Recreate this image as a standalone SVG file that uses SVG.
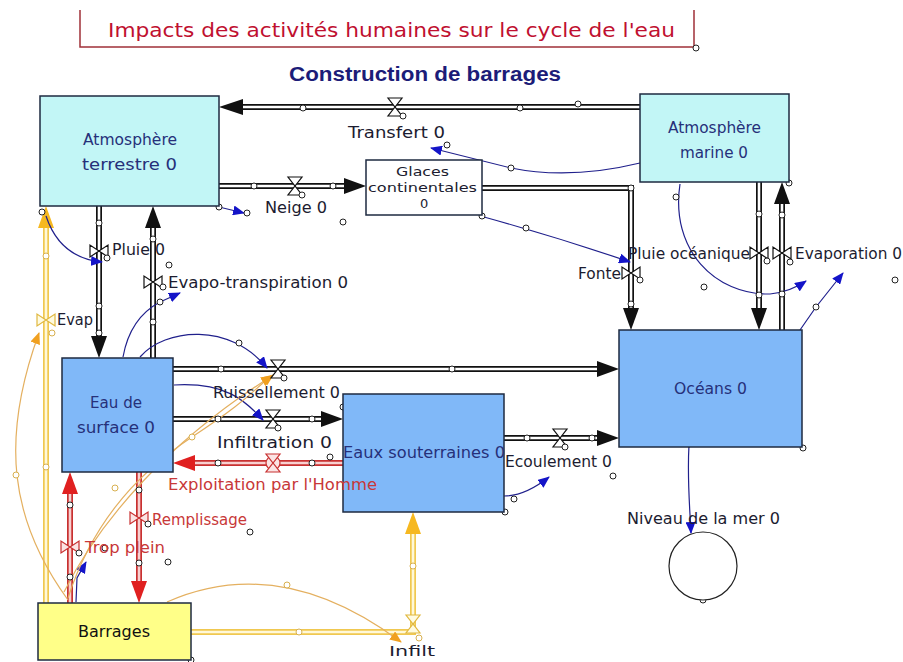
<svg xmlns="http://www.w3.org/2000/svg" width="903" height="662" viewBox="0 0 903 662">
<style>
text { font-family: "DejaVu Sans", "Liberation Sans", sans-serif; font-size: 15px; }
.lbl { fill: #1c1c30; }
.nl { fill: #26307a; }
.rl { fill: #c83838; }
.bk { fill: #111; }
.sm { font-size: 13px; }
.box { stroke: #1e2a40; stroke-width: 1.5; }
.atm { fill: #c2f6f6; }
.wat { fill: #80b8f8; }
.po { fill: none; stroke: #111; stroke-width: 6; }
.pi { fill: none; stroke: #fff; stroke-width: 2.6; }
.ro { fill: none; stroke: #c83030; stroke-width: 6; }
.ri { fill: none; stroke: #f8d0d0; stroke-width: 2.6; }
.yo { fill: none; stroke: #f0c850; stroke-width: 6; }
.yi { fill: none; stroke: #fff8d8; stroke-width: 2.6; }
.ab { fill: #111; }
.ar { fill: #e02020; }
.ay { fill: #f6b820; }
.hd { fill: #fff; stroke: #222; stroke-width: 1; }
.hy { fill: #fff; stroke: #d8b050; stroke-width: 1; }
.ib { fill: none; stroke: #20208c; stroke-width: 1.2; marker-end: url(#mb); }
.io { fill: none; stroke: #e4b060; stroke-width: 1.2; marker-end: url(#mo); }
.vb { fill: #fff; stroke: #111; stroke-width: 1.2; }
.vr { fill: #fbe4e4; stroke: #c83030; stroke-width: 1.2; }
.vy { fill: #fffbe0; stroke: #e0b840; stroke-width: 1.2; }
</style>
<defs>
<marker id="mb" viewBox="0 0 12 10" refX="11" refY="5" markerWidth="12" markerHeight="10" markerUnits="userSpaceOnUse" orient="auto"><path d="M0 0 L12 5 L0 10 Z" fill="#1414c8"/></marker>
<marker id="mo" viewBox="0 0 12 10" refX="11" refY="5" markerWidth="12" markerHeight="10" markerUnits="userSpaceOnUse" orient="auto"><path d="M0 0 L12 5 L0 10 Z" fill="#f0a020"/></marker>
<path id="vh" d="M-7,-9 L7,-9 L0,0 Z M-7,9 L7,9 L0,0 Z"/>
<path id="vv" d="M-9,-6 L-9,6 L0,0 Z M9,-6 L9,6 L0,0 Z"/>
<path id="p1" d="M640 107 H243"/>
<path id="p2" d="M219 186 H344"/>
<path id="p3" d="M482 188 H631 V308"/>
<path id="p4" d="M759 182 V308"/>
<path id="p5" d="M782 330 V204"/>
<path id="p6" d="M99 206 V336"/>
<path id="p7" d="M153 358 V228"/>
<path id="p8" d="M46 603 V228"/>
<path id="p9" d="M173 369 H597"/>
<path id="p10" d="M173 419 H321"/>
<path id="p11" d="M343 463 H195"/>
<path id="p12" d="M504 438 H597"/>
<path id="p13" d="M139 472 V581"/>
<path id="p14" d="M70 603 V494"/>
<path id="p15" d="M191 632 H413 V534"/>
</defs>
<rect width="903" height="662" fill="#fff"/>

<g id="title">
<path d="M80 10 V47 H694 V10" fill="none" stroke="#a03038" stroke-width="1.5"/>
<circle class="hd" cx="696" cy="48" r="3"/>
<text x="108" y="37" fill="#c01030" style="font-size:20px" textLength="567" lengthAdjust="spacingAndGlyphs">Impacts des activités humaines sur le cycle de l'eau</text>
</g>
<g id="subtitle">
<text x="289" y="81" fill="#1c1c78" style="font-family:'Liberation Sans',sans-serif;font-size:20px;font-weight:bold" textLength="272" lengthAdjust="spacingAndGlyphs">Construction de barrages</text>
</g>

<g id="connectors">
<use href="#p1" class="po"/><use href="#p1" class="pi"/>
<use href="#p2" class="po"/><use href="#p2" class="pi"/>
<use href="#p3" class="po"/><use href="#p3" class="pi"/>
<use href="#p4" class="po"/><use href="#p4" class="pi"/>
<use href="#p5" class="po"/><use href="#p5" class="pi"/>
<use href="#p6" class="po"/><use href="#p6" class="pi"/>
<use href="#p7" class="po"/><use href="#p7" class="pi"/>
<use href="#p8" class="yo"/><use href="#p8" class="yi"/>
<use href="#p9" class="po"/><use href="#p9" class="pi"/>
<use href="#p10" class="po"/><use href="#p10" class="pi"/>
<use href="#p11" class="ro"/><use href="#p11" class="ri"/>
<use href="#p12" class="po"/><use href="#p12" class="pi"/>
<use href="#p13" class="ro"/><use href="#p13" class="ri"/>
<use href="#p14" class="ro"/><use href="#p14" class="ri"/>
<use href="#p15" class="yo"/><use href="#p15" class="yi"/>
<polygon class="ab" points="219,107 243,99 243,115"/>
<polygon class="ab" points="366,186 344,178 344,194"/>
<polygon class="ab" points="631,330 623,308 639,308"/>
<polygon class="ab" points="759,330 751,308 767,308"/>
<polygon class="ab" points="782,182 774,204 790,204"/>
<polygon class="ab" points="99,358 91,336 107,336"/>
<polygon class="ab" points="153,206 145,228 161,228"/>
<polygon class="ay" points="46,206 38,228 54,228"/>
<polygon class="ab" points="619,369 597,361 597,377"/>
<polygon class="ab" points="343,419 321,411 321,427"/>
<polygon class="ar" points="173,463 195,455 195,471"/>
<polygon class="ab" points="619,438 597,430 597,446"/>
<polygon class="ar" points="139,603 131,581 147,581"/>
<polygon class="ar" points="70,472 62,494 78,494"/>
<polygon class="ay" points="413,512 405,534 421,534"/>

<path class="ib" d="M640 163 Q570 180 511 168 L431 148"/>
<path class="ib" d="M484 217 Q560 238 630 262"/>
<path class="ib" d="M680 184 C670 250 715 295 770 294 Q790 292 806 281"/>
<path class="ib" d="M800 330 L816 307 L843 273"/>
<path class="ib" d="M46 216 Q60 258 102 262"/>
<path class="ib" d="M123 357 Q130 318 160 302 L180 293"/>
<path class="ib" d="M140 357 C165 328 230 322 267 368"/>
<path class="ib" d="M174 385 C225 382 245 400 263 420"/>
<path class="ib" d="M504 496 Q525 496 549 477"/>
<path class="ib" d="M689 445 C687 480 690 510 691 533"/>
<path class="ib" d="M219 207 L244 213"/>
<path class="ib" d="M76 602 L77 578 L86 562"/>
<path class="io" d="M68 600 C10 520 0 440 39 333"/>
<path class="io" d="M68 598 C90 530 130 478 192 437 S250 392 273 375"/>
<path class="io" d="M64 592 C100 520 170 440 272 376"/>
<path class="io" d="M167 602 Q280 552 401 642"/>

<g id="handles">
<circle class="hd" cx="303" cy="108" r="3"/><circle class="hd" cx="520" cy="108" r="3"/><circle class="hd" cx="578" cy="104" r="3"/>
<circle class="hd" cx="254" cy="186" r="3"/><circle class="hd" cx="333" cy="186" r="3"/>
<circle class="hd" cx="631" cy="188" r="3"/><circle class="hd" cx="631" cy="304" r="3"/>
<circle class="hd" cx="759" cy="214" r="3"/><circle class="hd" cx="759" cy="295" r="3"/>
<circle class="hd" cx="782" cy="215" r="3"/><circle class="hd" cx="782" cy="294" r="3"/>
<circle class="hd" cx="99" cy="223" r="3"/><circle class="hd" cx="99" cy="306" r="3"/><circle class="hd" cx="99" cy="333" r="3"/>
<circle class="hd" cx="153" cy="239" r="3"/><circle class="hd" cx="153" cy="322" r="3"/>
<circle class="hy" cx="46" cy="256" r="3"/><circle class="hy" cx="46" cy="467" r="3"/>
<circle class="hd" cx="221" cy="369" r="3"/><circle class="hd" cx="452" cy="369" r="3"/>
<circle class="hd" cx="218" cy="419" r="3"/><circle class="hd" cx="312" cy="419" r="3"/>
<circle class="hd" cx="218" cy="463" r="3"/><circle class="hd" cx="312" cy="463" r="3"/><circle class="hd" cx="330" cy="457" r="3"/>
<circle class="hd" cx="527" cy="438" r="3"/><circle class="hd" cx="592" cy="438" r="3"/>
<circle class="hd" cx="139" cy="490" r="3"/><circle class="hd" cx="139" cy="563" r="3"/>
<circle class="hd" cx="70" cy="505" r="3"/><circle class="hd" cx="70" cy="577" r="3"/>
<circle class="hy" cx="299" cy="632" r="3"/><circle class="hy" cx="413" cy="566" r="3"/>
<circle class="hd" cx="42" cy="212" r="3"/><circle class="hd" cx="219" cy="207" r="3"/><circle class="hd" cx="247" cy="213" r="3"/>
<circle class="hd" cx="343" cy="222" r="3"/><circle class="hd" cx="169" cy="265" r="3"/>
<circle class="hd" cx="447" cy="145" r="3"/><circle class="hd" cx="511" cy="168" r="3"/>
<circle class="hd" cx="482" cy="216" r="3"/><circle class="hd" cx="526" cy="228" r="3"/>
<circle class="hd" cx="789" cy="183" r="3"/><circle class="hd" cx="676" cy="197" r="3"/>
<circle class="hd" cx="704" cy="287" r="3"/><circle class="hd" cx="895" cy="280" r="3"/><circle class="hd" cx="816" cy="307" r="3"/>
<circle class="hd" cx="803" cy="448" r="3"/><circle class="hd" cx="689" cy="444" r="3"/><circle class="hd" cx="703" cy="600" r="3"/>
<circle class="hd" cx="343" cy="407" r="3"/><circle class="hd" cx="380" cy="499" r="3"/><circle class="hd" cx="505" cy="512" r="3"/>
<circle class="hd" cx="514" cy="499" r="3"/><circle class="hd" cx="613" cy="476" r="3"/>
<circle class="hd" cx="250" cy="532" r="3"/><circle class="hd" cx="168" cy="562" r="3"/><circle class="hd" cx="105" cy="548" r="3"/>
<circle class="hd" cx="191" cy="660" r="3"/>
<circle class="hy" cx="16" cy="475" r="3"/><circle class="hy" cx="115" cy="488" r="3"/><circle class="hy" cx="192" cy="437" r="3"/><circle class="hy" cx="287" cy="585" r="3"/>
<circle class="hd" cx="239" cy="343" r="3"/><circle class="hd" cx="160" cy="302" r="3"/>
</g>
</g>

<g id="atmosphere-terrestre">
<rect class="box atm" x="40" y="96" width="179" height="110"/>
<text class="nl" x="83" y="145" textLength="94" lengthAdjust="spacingAndGlyphs">Atmosphère</text>
<text class="nl" x="82" y="170" textLength="95" lengthAdjust="spacingAndGlyphs">terrestre 0</text>
</g>
<g id="atmosphere-marine">
<rect class="box atm" x="640" y="94" width="149" height="88"/>
<text class="nl" x="668" y="133" textLength="93" lengthAdjust="spacingAndGlyphs">Atmosphère</text>
<text class="nl" x="680" y="158" textLength="68" lengthAdjust="spacingAndGlyphs">marine 0</text>
</g>
<g id="glaces-continentales">
<rect class="box" x="366" y="160" width="116" height="55" fill="#fff"/>
<text class="lbl sm" x="396" y="176" textLength="53" lengthAdjust="spacingAndGlyphs">Glaces</text>
<text class="lbl sm" x="368" y="192" textLength="109" lengthAdjust="spacingAndGlyphs">continentales</text>
<text class="lbl sm" x="420" y="208">0</text>
</g>
<g id="eau-de-surface">
<rect class="box wat" x="62" y="358" width="111" height="114"/>
<text class="nl" x="90" y="408" textLength="52" lengthAdjust="spacingAndGlyphs">Eau de</text>
<text class="nl" x="77" y="433" textLength="78" lengthAdjust="spacingAndGlyphs">surface 0</text>
</g>
<g id="eaux-souterraines">
<rect class="box wat" x="343" y="394" width="161" height="118"/>
<text class="nl" x="343" y="458" textLength="162" lengthAdjust="spacingAndGlyphs">Eaux souterraines 0</text>
</g>
<g id="oceans">
<rect class="box wat" x="619" y="330" width="183" height="117"/>
<text class="nl" x="674" y="394" textLength="73" lengthAdjust="spacingAndGlyphs">Océans 0</text>
</g>
<g id="niveau-de-la-mer">
<circle cx="703" cy="566" r="34" fill="#fff" stroke="#222" stroke-width="1.2"/>
<text class="lbl" x="627" y="524" textLength="153" lengthAdjust="spacingAndGlyphs">Niveau de la mer 0</text>
</g>
<g id="barrages">
<rect class="box" x="38" y="603" width="153" height="57" fill="#ffff88"/>
<text class="bk" x="78" y="637" textLength="72" lengthAdjust="spacingAndGlyphs">Barrages</text>
</g>

<g id="flow-transfert">
<use href="#vh" x="395" y="107" class="vb"/><circle class="hd" cx="403" cy="116" r="3"/>
<text class="lbl" x="348" y="138" textLength="97" lengthAdjust="spacingAndGlyphs">Transfert 0</text>
</g>
<g id="flow-neige">
<use href="#vh" x="295" y="186" class="vb"/><circle class="hd" cx="302" cy="195" r="3"/>
<text class="lbl" x="265" y="213" textLength="62" lengthAdjust="spacingAndGlyphs">Neige 0</text>
</g>
<g id="flow-fonte">
<use href="#vv" x="631" y="273" class="vb"/><circle class="hd" cx="640" cy="280" r="3"/>
<text class="lbl" x="578" y="279" textLength="43" lengthAdjust="spacingAndGlyphs">Fonte</text>
</g>
<g id="flow-pluie-oceanique">
<use href="#vv" x="759" y="253" class="vb"/><circle class="hd" cx="767" cy="261" r="3"/>
<text class="lbl" x="628" y="259" textLength="122" lengthAdjust="spacingAndGlyphs">Pluie océanique</text>
</g>
<g id="flow-evaporation">
<use href="#vv" x="782" y="253" class="vb"/><circle class="hd" cx="790" cy="262" r="3"/>
<text class="lbl" x="795" y="259" textLength="107" lengthAdjust="spacingAndGlyphs">Evaporation 0</text>
</g>
<g id="flow-pluie">
<use href="#vv" x="99" y="251" class="vb"/><circle class="hd" cx="107" cy="258" r="3"/>
<text class="lbl" x="112" y="255" textLength="53" lengthAdjust="spacingAndGlyphs">Pluie 0</text>
</g>
<g id="flow-evapo-transpiration">
<use href="#vv" x="153" y="282" class="vb"/><circle class="hd" cx="163" cy="287" r="3"/>
<text class="lbl" x="168" y="288" textLength="180" lengthAdjust="spacingAndGlyphs">Evapo-transpiration 0</text>
</g>
<g id="flow-evap">
<use href="#vv" x="46" y="320" class="vy"/><circle class="hy" cx="52" cy="333" r="3"/>
<text class="lbl" x="57" y="325" textLength="36" lengthAdjust="spacingAndGlyphs">Evap</text>
</g>
<g id="flow-ruissellement">
<use href="#vh" x="278" y="369" class="vb"/><circle class="hd" cx="284" cy="378" r="3"/>
<text class="lbl" x="213" y="398" textLength="127" lengthAdjust="spacingAndGlyphs">Ruissellement 0</text>
</g>
<g id="flow-infiltration">
<use href="#vh" x="273" y="419" class="vb"/><circle class="hd" cx="278" cy="428" r="3"/>
<text class="lbl" x="217" y="448" textLength="115" lengthAdjust="spacingAndGlyphs">Infiltration 0</text>
</g>
<g id="flow-exploitation">
<circle cx="273" cy="463" r="7" class="vr"/>
<use href="#vh" x="273" y="463" class="vr"/>
<text class="rl" x="168" y="490" textLength="209" lengthAdjust="spacingAndGlyphs">Exploitation par l'Homme</text>
</g>
<g id="flow-ecoulement">
<use href="#vh" x="560" y="438" class="vb"/><circle class="hd" cx="565" cy="447" r="3"/>
<text class="lbl" x="505" y="467" textLength="107" lengthAdjust="spacingAndGlyphs">Ecoulement 0</text>
</g>
<g id="flow-remplissage">
<use href="#vv" x="139" y="518" class="vr"/><circle class="hd" cx="148" cy="524" r="3"/>
<text class="rl" x="152" y="525" textLength="95" lengthAdjust="spacingAndGlyphs">Remplissage</text>
</g>
<g id="flow-trop-plein">
<use href="#vv" x="70" y="547" class="vr"/><circle class="hd" cx="79" cy="553" r="3"/>
<text class="rl" x="85" y="553" textLength="80" lengthAdjust="spacingAndGlyphs">Trop plein</text>
</g>
<g id="flow-infilt">
<use href="#vh" x="413" y="624" class="vy"/><circle class="hy" cx="419" cy="638" r="3"/>
<text class="lbl" x="389" y="656" style="font-size:14px" textLength="46" lengthAdjust="spacingAndGlyphs">Infilt</text>
</g>
</svg>
